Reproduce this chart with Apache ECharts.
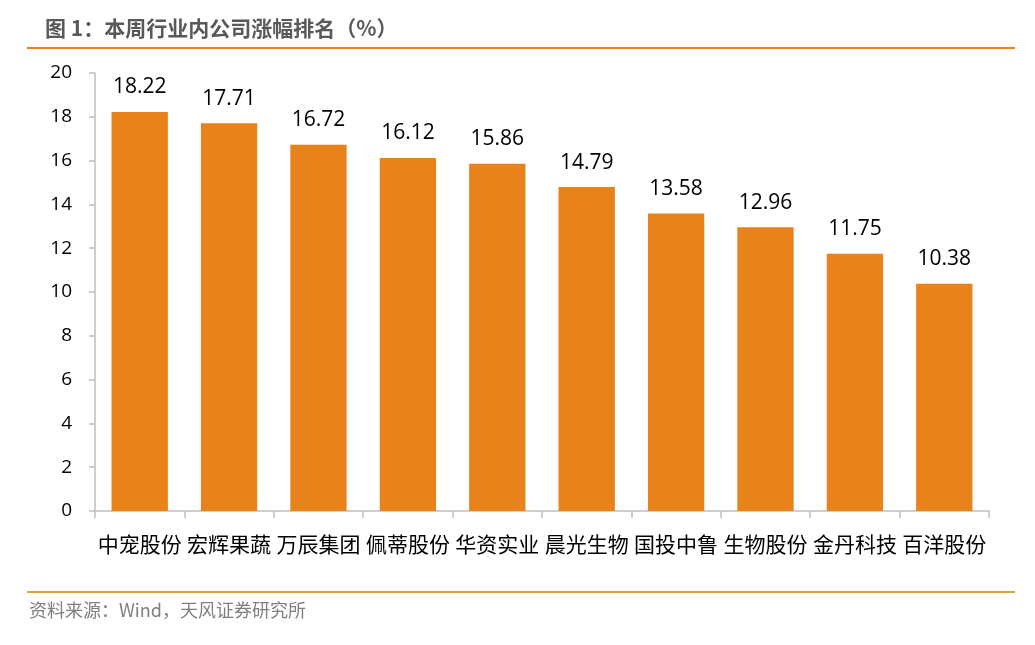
<!DOCTYPE html>
<html>
<head>
<meta charset="utf-8">
<script src="https://cdn.jsdelivr.net/npm/echarts@6/dist/echarts.min.js"></script>
<style>
  html, body { margin: 0; padding: 0; background: #fff; }
  #chart { width: 1035px; height: 645px; }
</style>
</head>
<body>
<div id="chart"></div>
<script>
const categories = ["中宠股份", "宏辉果蔬", "万辰集团", "佩蒂股份", "华资实业", "晨光生物", "国投中鲁", "生物股份", "金丹科技", "百洋股份"];
const gains = [18.22, 17.71, 16.72, 16.12, 15.86, 14.79, 13.58, 12.96, 11.75, 10.38];

const chart = echarts.init(document.getElementById("chart"));

const option = {
  animation: false,
  textStyle: { fontFamily: "Noto Sans CJK SC" },
  title: {
    text: "图 1：本周行业内公司涨幅排名（%）",
    left: 40,
    top: 13,
    textStyle: { fontSize: 21, fontWeight: "bold", color: "#595959", fontFamily: "Noto Sans CJK SC" }
  },
  graphic: [
    { type: "rect", shape: { x: 27, y: 47, width: 988, height: 2 }, style: { fill: "#E8821A" } },
    { type: "rect", shape: { x: 27, y: 591, width: 988, height: 2 }, style: { fill: "#E0A040" } },
    {
      type: "text", left: 29, top: 601,
      style: { text: "资料来源：Wind，天风证券研究所", fontSize: 18, fill: "#7f7f7f", fontFamily: "Noto Sans CJK SC" }
    }
  ],
  grid: { left: 95, right: 46, top: 73, bottom: 134 },
  xAxis: {
    type: "category",
    data: categories,
    axisLine: { lineStyle: { color: "#bfbfbf", width: 1.5 } },
    axisTick: { show: true, length: 7, lineStyle: { color: "#bfbfbf", width: 1.5 } },
    axisLabel: { fontSize: 21, color: "#000", margin: 23, interval: 0 }
  },
  yAxis: {
    type: "value",
    min: 0,
    max: 20,
    interval: 2,
    axisLine: { show: true, lineStyle: { color: "#bfbfbf", width: 1.5 } },
    axisTick: { show: true, length: 6, lineStyle: { color: "#bfbfbf", width: 1.5 } },
    axisLabel: { fontSize: 19, color: "#000", margin: 23, fontFamily: "Open Sans" },
    splitLine: { show: false }
  },
  series: [
    {
      type: "bar",
      data: gains,
      barWidth: "63%",
      itemStyle: { color: "#E8821A" },
      label: {
        show: true,
        position: "top",
        distance: 14,
        fontSize: 21,
        color: "#000",
        fontFamily: "Open Sans",
        formatter: (p) => p.value.toFixed(2)
      }
    }
  ]
};

chart.setOption(option);
</script>
</body>
</html>
